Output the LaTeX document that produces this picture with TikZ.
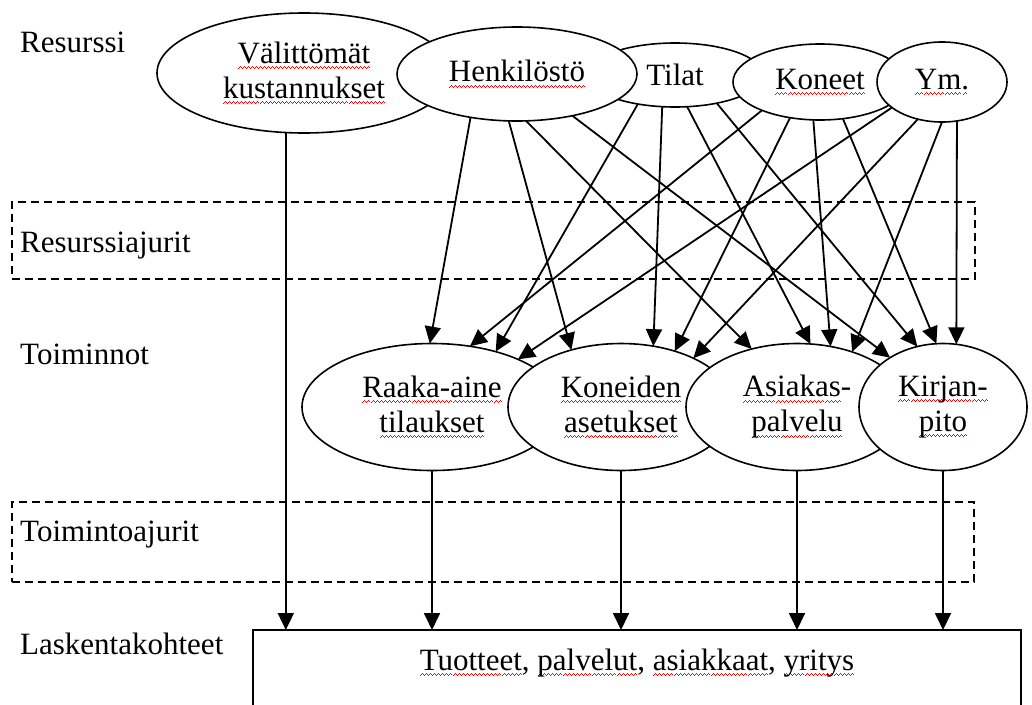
\documentclass[tikz,border=0pt]{standalone}
\usepackage{fontspec}
\setmainfont{Liberation Serif}
\usetikzlibrary{arrows.meta,shapes.geometric}
% spell-check style wavy underlines, built from small rules
\newcommand\waveunit{\rule[-6pt]{1pt}{1.2pt}\rule[-5pt]{1pt}{1.2pt}\rule[-4pt]{1pt}{1.2pt}\rule[-5pt]{1pt}{1.2pt}}
\newsavebox\wordbox
\newcommand\wavy[2]{\sbox\wordbox{#2}\rlap{\color{#1}\hbox to\wd\wordbox{\xleaders\hbox{\waveunit}\hfil}}\usebox\wordbox}
\newcommand\sq[1]{\wavy{red}{#1}}
\newcommand\sqg[1]{\wavy{green!60!black}{#1}}
\begin{document}
\begin{tikzpicture}[x=1pt,y=-1pt,
  txt/.style={font=\fontsize{31}{35}\selectfont},
  ell/.style={ellipse,draw,fill=white,line width=1.6pt,inner sep=0pt,outer sep=0pt,align=center,txt},
  drv/.style={draw,dash pattern=on 8pt off 5pt,line width=1.3pt,inner sep=0pt,outer sep=0pt,anchor=north west},
  lbl/.style={anchor=base west,inner sep=0pt,txt},
  arr/.style={-{Triangle[length=17pt,width=16pt]},line width=1.8pt}]
\useasboundingbox (0,0) rectangle (1032,704);
\clip (0,0) rectangle (1032,704);

% driver bands
\node[drv,minimum width=963pt,minimum height=77pt] (rdrv) at (12,202) {};
\node[drv,minimum width=962pt,minimum height=80pt] (tdrv) at (12,502) {};

% row labels
\node[lbl] (lres) at (20,52) {Resurssi};
\node[lbl] (lrdrv) at (20,252) {Resurssiajurit};
\node[lbl] (ltoi) at (20,364) {Toiminnot};
\node[lbl] (ltdrv) at (20,541) {Toimintoajurit};
\node[lbl] (llas) at (20,654) {Laskentakohteet};

% resources
\node[ell,minimum width=294pt,minimum height=120pt] (val) at (304,73) {\sq{Välittömät}\\\sq{kustannukset}};
\node[ell,minimum width=176pt,minimum height=64pt] (til) at (675,75) {Tilat};
\node[ell,minimum width=240pt,minimum height=94pt] (hen) at (517,74) {\raisebox{6pt}{\sq{Henkilöstö}}};
\node[ell,minimum width=174pt,minimum height=76pt] (kon) at (820,82) {\sq{Koneet}};
\node[ell,minimum width=130pt,minimum height=80pt] (ym) at (942,82) {\sq{Ym}\sqg{.}};

% activities
\node[ell,minimum width=260pt,minimum height=127pt] (raa) at (432,407) {\sq{Raaka-aine}\\\sq{tilaukset}};
\node[ell,minimum width=226pt,minimum height=127pt] (kod) at (621,407) {\sq{Koneiden}\\\sq{asetukset}};
\node[ell,minimum width=222pt,minimum height=127pt] (asi) at (797,407) {\sq{Asiakas}-\\\sq{palvelu}};
\node[ell,minimum width=168pt,minimum height=127pt] (kir) at (943,407) {\sq{Kirjan-}\\\sq{pito}};

% cost objects
\node[draw,line width=1.6pt,inner sep=0pt,outer sep=0pt,anchor=north west,
      minimum width=768pt,minimum height=120pt] (box) at (253,630) {};
\node[txt,anchor=base,inner sep=0pt] (boxtxt) at (637,670)
  {\sq{Tuotteet}, \sq{palvelut}, \sq{asiakkaat}, \sq{yritys}};

% resource drivers
\draw[arr] (hen.-137) -- (raa.92);
\draw[arr] (hen.-100) -- (kod.131);
\draw[arr] (hen.-79)  -- (asi.128);
\draw[arr] (hen.-37)  -- (kir.137);
\draw[arr] (til.-142) -- (raa.41);
\draw[arr] (til.-112) -- (kod.62);
\draw[arr] (til.-69)  -- (asi.78);
\draw[arr] (til.-34)  -- (kir.113);
\draw[arr] (kon.-154) -- (raa.58);
\draw[arr] (kon.-130) -- (kod.46);
\draw[arr] (kon.-100) -- (asi.61);
\draw[arr] (kon.-58)  -- (kir.96);
\draw[arr] (ym.-153)  -- (raa.29);
\draw[arr] (ym.-123)  -- (kod.34);
\draw[arr] (ym.-90)   -- (asi.45);
\draw[arr] (ym.-69)   -- (kir.78);

% activity drivers
\draw[arr] (val.-107) -- (val.-107 |- box.north);
\draw[arr] (raa.south) -- (raa.south |- box.north);
\draw[arr] (kod.south) -- (kod.south |- box.north);
\draw[arr] (asi.south) -- (asi.south |- box.north);
\draw[arr] (kir.south) -- (kir.south |- box.north);
\end{tikzpicture}
\end{document}
